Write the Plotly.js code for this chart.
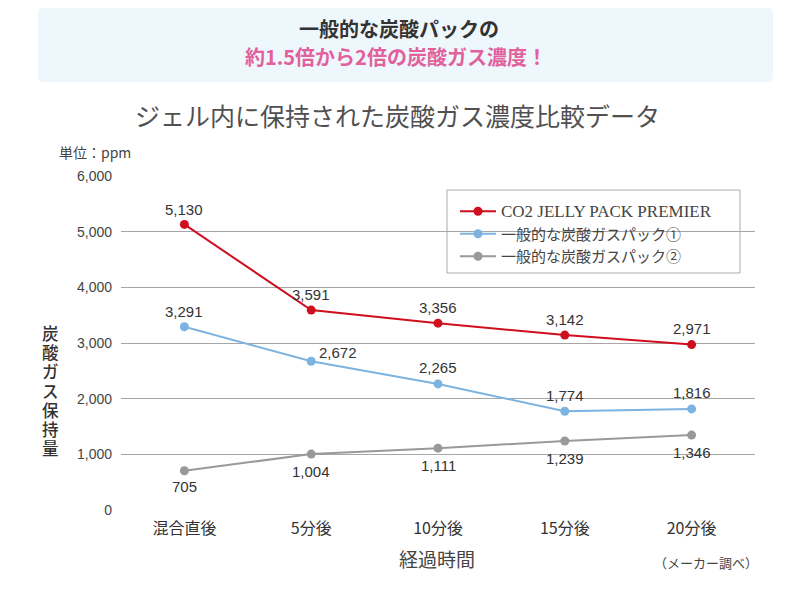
<!DOCTYPE html>
<html><head><meta charset="utf-8">
<script src="https://cdn.plot.ly/plotly-3.0.1.min.js"></script>
<style>body{margin:0;background:#fff}#c{width:793px;height:595px}</style>
</head><body><div id="c"></div>
<script>
const categories = ['混合直後','5分後','10分後','15分後','20分後'];
const premier = [5130, 3591, 3356, 3142, 2971];
const general1 = [3291, 2672, 2265, 1774, 1816];
const general2 = [705, 1004, 1111, 1239, 1346];
const yTicks = [0,1000,2000,3000,4000,5000,6000];
const yTickText = ['0','1,000','2,000','3,000','4,000','5,000','6,000'];
const names = ['<span style="font-family:\'Liberation Serif\',serif;font-size:17px">CO2 JELLY PACK PREMIER</span>','一般的な炭酸ガスパック①','一般的な炭酸ガスパック②'];
const yLabelChars = ['炭','酸','ガ','ス','保','持','量'];
const fmt = v => v.toLocaleString('en-US');

const W=793,H=595,L=121,R=755,T=176,B=510;
const px = x => (x-L)/(R-L);
const py = y => (B-y)/(B-T);

const font = "'Liberation Sans','Noto Sans CJK JP',sans-serif";
const jfont = "'Noto Sans CJK JP','Liberation Sans',sans-serif";

function tr(y, name, color){
  return {x: categories, y: y, name: name, type:'scatter', mode:'lines+markers',
    line:{color:color,width:2}, marker:{color:color,size:9},
    cliponaxis:false, hoverinfo:'none'};
}
const data = [
  tr(premier, names[0], '#cf0f1e'),
  tr(general1, names[1], '#7db3e0'),
  tr(general2, names[2], '#999999')
];

function labels(vals, ys, xs){
  return vals.map((v,i)=>({x:categories[i],y:v,xref:'x',yref:'y',text:fmt(v),showarrow:false,
    yshift:ys[i],xshift:xs?xs[i]:0,xanchor:'center',yanchor:'middle',font:{size:15,color:'#333',family:font}}));
}

function rr(x0,y0,x1,y1,r){
  return `M${px(x0+r)},${py(y0)} L${px(x1-r)},${py(y0)} Q${px(x1)},${py(y0)} ${px(x1)},${py(y0+r)} L${px(x1)},${py(y1-r)} Q${px(x1)},${py(y1)} ${px(x1-r)},${py(y1)} L${px(x0+r)},${py(y1)} Q${px(x0)},${py(y1)} ${px(x0)},${py(y1-r)} L${px(x0)},${py(y0+r)} Q${px(x0)},${py(y0)} ${px(x0+r)},${py(y0)} Z`;
}

const ann = (text,x,y,size,color,extra) => Object.assign({text:text,xref:'paper',yref:'paper',x:px(x),y:py(y),showarrow:false,
  font:{size:size,color:color,family:jfont},xanchor:'center',yanchor:'middle'},extra||{});

const annotations = [
  ann('<b>一般的な炭酸パックの</b>',399,28,20,'#333'),
  ann('<b>約1.5倍から2倍の炭酸ガス濃度！</b>',396,56,20,'#e2609c'),
  ann('ジェル内に保持された炭酸ガス濃度比較データ',397,115,25,'#505050'),
  ann('単位：ppm',57,152,14,'#444',{xanchor:'left'}),
  ann('経過時間',437,558,19,'#444'),
  ann('（メーカー調べ）',706,562,13,'#444')
];
yLabelChars.forEach((c,i)=>annotations.push(ann(c,50,333+i*19.2,16.5,'#333',{borderpad:0,font:{size:16.5,color:'#333',family:jfont,weight:500}})));
annotations.push(...labels(premier,[15,16,16,16,16]));
annotations.push(...labels(general1,[15,9,16,16,16],[0,27,0,0,0]));
annotations.push(...labels(general2,[-16,-17,-17,-17,-17]));

const layout = {
  width:W,height:H,margin:{l:L,r:W-R,t:T,b:H-B},
  paper_bgcolor:'#fff',plot_bgcolor:'#fff',
  font:{family:font,color:'#444'},
  showlegend:true,
  legend:{x:px(455),y:py(195),xanchor:'left',yanchor:'top',bgcolor:'rgba(0,0,0,0)',borderwidth:0,
    font:{size:15,color:'#444',family:jfont},tracegroupgap:0,itemwidth:36},
  xaxis:{type:'category',range:[-0.5,4.5],showgrid:false,zeroline:false,showline:false,ticks:'',ticklabelstandoff:7,
    tickfont:{size:16,color:'#333',family:jfont},fixedrange:true},
  yaxis:{range:[0,6000],tickvals:yTicks,ticktext:yTickText,showgrid:true,gridcolor:'#a6a6a6',gridwidth:1,
    zeroline:false,showline:false,ticks:'',ticklabelstandoff:8,tickfont:{size:14,color:'#444',family:font},fixedrange:true},
  shapes:[
    {type:'path',xref:'paper',yref:'paper',path:rr(38,8,773,82,5),fillcolor:'#eef7fc',line:{width:0},layer:'below'},
    {type:'rect',xref:'paper',yref:'paper',x0:px(447),x1:px(740),y0:py(273),y1:py(190),fillcolor:'#fff',line:{color:'#aaaaaa',width:1},layer:'between'}
  ],
  annotations:annotations
};
Plotly.newPlot('c',data,layout,{staticPlot:true});
</script></body></html>
